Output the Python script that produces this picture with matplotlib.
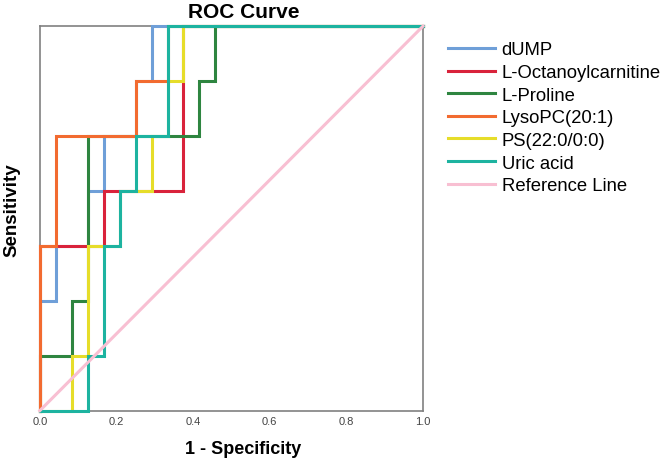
import numpy as np
import matplotlib
matplotlib.use("Agg")
import matplotlib.pyplot as plt

plt.rcParams['font.family'] = ['Liberation Sans', 'DejaVu Sans']

# ROC vertices: false positive counts (of 24) and true positive counts (of 7)
N_NEG = 24
N_POS = 7

fp_dump = [0, 0, 1, 1, 3, 3, 4, 4, 6, 6, 7, 7, 24]
tp_dump = [0, 2, 2, 3, 3, 4, 4, 5, 5, 6, 6, 7, 7]

fp_octanoyl = [0, 0, 4, 4, 9, 9, 24]
tp_octanoyl = [0, 3, 3, 4, 4, 7, 7]

fp_proline = [0, 0, 2, 2, 3, 3, 10, 10, 11, 11, 24]
tp_proline = [0, 1, 1, 2, 2, 5, 5, 6, 6, 7, 7]

fp_lysopc = [0, 0, 1, 1, 6, 6, 8, 8, 24]
tp_lysopc = [0, 3, 3, 5, 5, 6, 6, 7, 7]

fp_ps = [0, 2, 2, 3, 3, 5, 5, 7, 7, 8, 8, 9, 9, 24]
tp_ps = [0, 0, 1, 1, 3, 3, 4, 4, 5, 5, 6, 6, 7, 7]

fp_uric = [0, 3, 3, 4, 4, 5, 5, 6, 6, 8, 8, 24]
tp_uric = [0, 0, 1, 1, 3, 3, 4, 4, 5, 5, 7, 7]

labels = ["dUMP", "L-Octanoylcarnitine", "L-Proline", "LysoPC(20:1)",
          "PS(22:0/0:0)", "Uric acid"]
colors = ["#6f9fd8", "#d9233b", "#2e8540", "#f26b30", "#e6dd2a", "#1db3a0"]
curves = [(fp_dump, tp_dump), (fp_octanoyl, tp_octanoyl), (fp_proline, tp_proline),
          (fp_lysopc, tp_lysopc), (fp_ps, tp_ps), (fp_uric, tp_uric)]

ref_color = "#f8bfd2"
xticks = [0.0, 0.2, 0.4, 0.6, 0.8, 1.0]

fig = plt.figure(figsize=(6.63, 4.6), dpi=100)
ax = fig.add_axes([0.060, 0.105, 0.578, 0.836])

for (fp, tp), lab, col in zip(curves, labels, colors):
    ax.plot(np.array(fp) / N_NEG, np.array(tp) / N_POS, color=col, lw=2.2,
            label=lab, solid_joinstyle='miter', clip_on=False, zorder=3)
ax.plot([0, 1], [0, 1], color=ref_color, lw=2.2, label="Reference Line",
        clip_on=False, zorder=3)

ax.set_xlim(0, 1)
ax.set_ylim(0, 1)
ax.set_xticks(xticks)
ax.set_xticklabels([f"{t:.1f}" for t in xticks], fontsize=8, color="#444444")
ax.set_yticks([])
ax.tick_params(axis='x', length=0, pad=4)
for s in ax.spines.values():
    s.set_color("#808080")
    s.set_linewidth(1.2)

ax.set_title("ROC Curve", fontsize=15, fontweight='bold', x=0.531, pad=6.5)
ax.set_xlabel("1 - Specificity", fontsize=13, fontweight='bold')
ax.xaxis.set_label_coords(0.531, -0.075)
ax.set_ylabel("Sensitivity", fontsize=13.5, fontweight='bold')
ax.yaxis.set_label_coords(-0.050, 0.525)

ax.legend(loc='upper left', bbox_to_anchor=(0.664, 0.924), bbox_transform=fig.transFigure,
          frameon=False, fontsize=13.3, handlelength=2.55, handletextpad=0.38,
          labelspacing=0.305, borderaxespad=0)

fig.savefig("out.png", dpi=100)
